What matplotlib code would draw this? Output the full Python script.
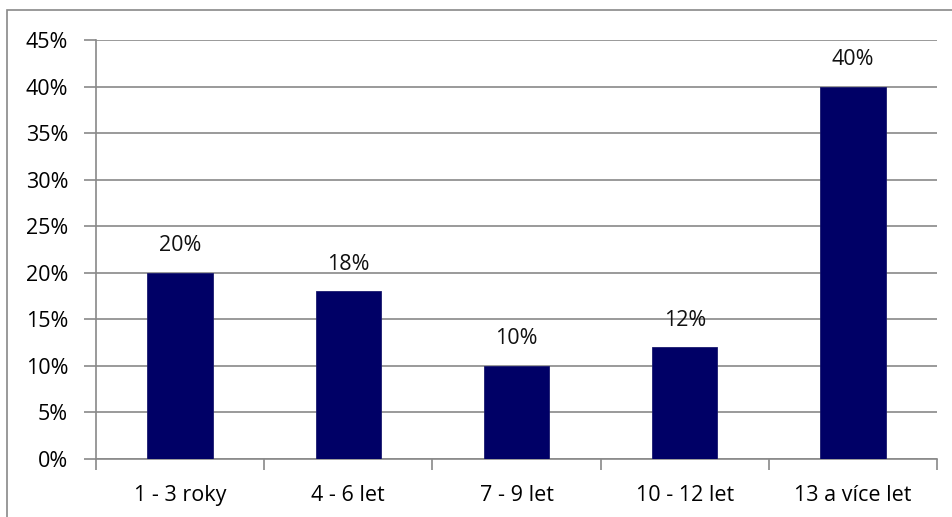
import matplotlib
matplotlib.use("Agg")
import matplotlib.pyplot as plt
from matplotlib.patches import Rectangle
import numpy as np

categories = ["1 - 3 roky", "4 - 6 let", "7 - 9 let", "10 - 12 let", "13 a více let"]
values = [20, 18, 10, 12, 40]
yticks = [0, 5, 10, 15, 20, 25, 30, 35, 40, 45]

plt.rcParams['font.family'] = ['Open Sans', 'DejaVu Sans']
grid_c = "#898989"
fs = 15.5

fig = plt.figure(figsize=(9.52, 5.17), dpi=100)
# outer chart frame
fig.patches.append(Rectangle((7 / 952, -0.05), 1.2, 1 - 10 / 517 + 0.05,
                             transform=fig.transFigure, fill=False,
                             edgecolor=grid_c, linewidth=1.2))

ax = fig.add_axes([96 / 952, 1 - 459 / 517, (937 - 96) / 952, (459 - 40) / 517])
x = np.arange(len(categories))
ax.bar(x, values, width=0.39, color="#000066", edgecolor="#1a1a6e", linewidth=0.6, zorder=3)
for xi, v in zip(x, values):
    ax.text(xi, v + 1.8, f"{v}%", ha="center", va="bottom", fontsize=fs, color="#111111")

ax.set_xlim(-0.5, len(categories) - 0.5)
ax.set_ylim(0, 45)
ax.set_yticks(yticks)
ax.set_yticklabels([f"{t}%" for t in yticks], fontsize=fs)
ax.yaxis.grid(True, color=grid_c, linewidth=1.2, zorder=0)
ax.tick_params(axis="y", length=9, width=1.2, color=grid_c, pad=11)

ax.set_xticks(x)
ax.set_xticklabels(categories, fontsize=fs)
ax.set_xticks(np.arange(len(categories) + 1) - 0.5, minor=True)
ax.tick_params(axis="x", which="major", length=0, pad=19)
ax.tick_params(axis="x", which="minor", length=8, width=1.2, color=grid_c)

for s in ["top", "right"]:
    ax.spines[s].set_visible(False)
for s in ["left", "bottom"]:
    ax.spines[s].set_color(grid_c)
    ax.spines[s].set_linewidth(1.2)

fig.savefig("out.png", dpi=100)
